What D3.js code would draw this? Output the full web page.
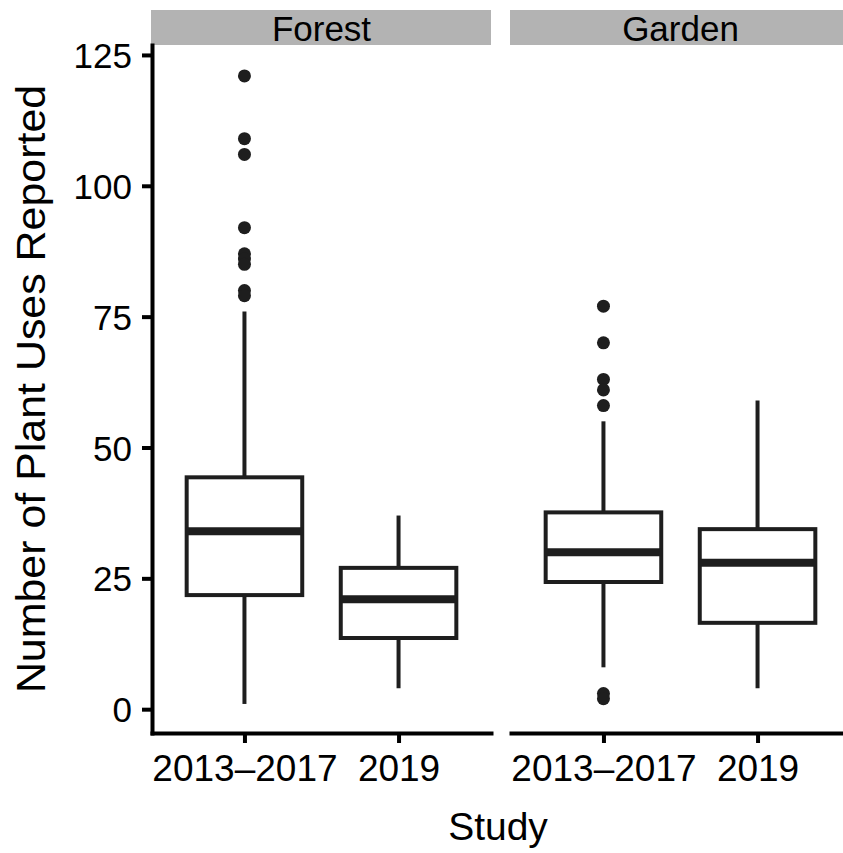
<!DOCTYPE html>
<style>
  body { margin: 0; background: #fff; }
  text { font-family: "Liberation Sans", Arial, Helvetica, sans-serif; fill: #000; }
  .axis .domain, .axis line { stroke: #000; stroke-width: 4px; }
</style>
<svg width="843" height="853"></svg>
<script src="https://cdnjs.cloudflare.com/ajax/libs/d3/7.8.5/d3.min.js"></script>
<script>
  // Chart data
  var panels = ["Forest", "Garden"];
  var studies = ["2013\u20132017", "2019"];
  var yTicks = [0, 25, 50, 75, 100, 125];

  // box stats per panel, in study order: [lower whisker, Q1, median, Q3, upper whisker]
  var forestStats = [[1, 21.8, 34, 44.3, 76], [4, 13.6, 21, 27, 37]];
  var gardenStats = [[8, 24.3, 30, 37.6, 55], [4, 16.5, 28, 34.4, 59]];
  var forestOutliers = [[121, 109, 106, 92, 87, 86, 85, 80, 79], []];
  var gardenOutliers = [[77, 70, 63, 61, 58, 3, 2], []];

  var svg = d3.select("svg"),
      plotTop = 45, plotBottom = 733, plotLeft = 152,
      panelW = 339, gap = 20;

  var boxes = [];
  [forestStats, gardenStats].forEach(function(stats, p) {
    stats.forEach(function(s, i) {
      boxes.push({panel: panels[p], study: studies[i], lo: s[0], q1: s[1], med: s[2], q3: s[3], hi: s[4],
                  out: [forestOutliers, gardenOutliers][p][i]});
    });
  });

  var fx = d3.scaleBand().domain(panels)
      .range([plotLeft, plotLeft + 2 * panelW + gap])
      .paddingInner(gap / (panelW + gap));

  var x = d3.scalePoint().domain(studies).range([0, panelW]).padding(0.6);
  var boxW = x.step() * 0.75;

  var y = d3.scaleLinear().domain([-4.55, 126.9]).range([plotBottom, plotTop]);

  // strips and x axes
  panels.forEach(function(p) {
    var g = svg.append("g").attr("transform", "translate(" + fx(p) + ",0)");
    g.append("rect").attr("x", -1).attr("y", 10).attr("width", panelW + 1).attr("height", plotTop - 10)
        .attr("fill", "#b3b3b3");
    g.append("text").attr("x", panelW / 2).attr("y", 41).attr("text-anchor", "middle")
        .style("font-size", "35px").text(p);

    g.append("g").attr("class", "axis").attr("transform", "translate(0," + plotBottom + ")")
        .call(d3.axisBottom(x).tickSize(10).tickSizeOuter(0).tickPadding(10))
        .selectAll(".tick text").style("font-size", "37px").attr("dy", "0.75em");
  });

  // y axis
  svg.append("g").attr("class", "axis").attr("transform", "translate(" + plotLeft + ",0)")
      .call(d3.axisLeft(y).tickValues(yTicks).tickSize(10).tickSizeOuter(0).tickPadding(10))
      .selectAll(".tick text").style("font-size", "35px").attr("dy", "0.36em");
  svg.selectAll(".axis .domain").attr("stroke-linecap", "square");

  // boxes
  var b = svg.append("g").selectAll("g").data(boxes).enter().append("g")
      .attr("transform", function(d) { return "translate(" + (fx(d.panel) + x(d.study)) + ",0)"; });

  b.append("line").attr("y1", function(d) { return y(d.hi); }).attr("y2", function(d) { return y(d.q3); })
      .attr("stroke", "#1e1e1e").attr("stroke-width", 4);
  b.append("line").attr("y1", function(d) { return y(d.q1); }).attr("y2", function(d) { return y(d.lo); })
      .attr("stroke", "#1e1e1e").attr("stroke-width", 4);
  b.append("rect").attr("x", -boxW / 2).attr("width", boxW)
      .attr("y", function(d) { return y(d.q3); })
      .attr("height", function(d) { return y(d.q1) - y(d.q3); })
      .attr("fill", "#fff").attr("stroke", "#1e1e1e").attr("stroke-width", 4);
  b.append("line").attr("x1", -boxW / 2).attr("x2", boxW / 2)
      .attr("y1", function(d) { return y(d.med); }).attr("y2", function(d) { return y(d.med); })
      .attr("stroke", "#1e1e1e").attr("stroke-width", 8);
  b.selectAll("circle").data(function(d) { return d.out; }).enter().append("circle")
      .attr("cy", function(v) { return y(v); }).attr("r", 6.5).attr("fill", "#1e1e1e");

  // axis titles
  svg.append("text").attr("x", 498).attr("y", 840).attr("text-anchor", "middle")
      .style("font-size", "39px").text("Study");
  svg.append("text").attr("transform", "translate(45," + ((plotTop + plotBottom) / 2) + ") rotate(-90) scale(1.06,1)")
      .attr("text-anchor", "middle").style("font-size", "40.5px").text("Number of Plant Uses Reported");
</script>
